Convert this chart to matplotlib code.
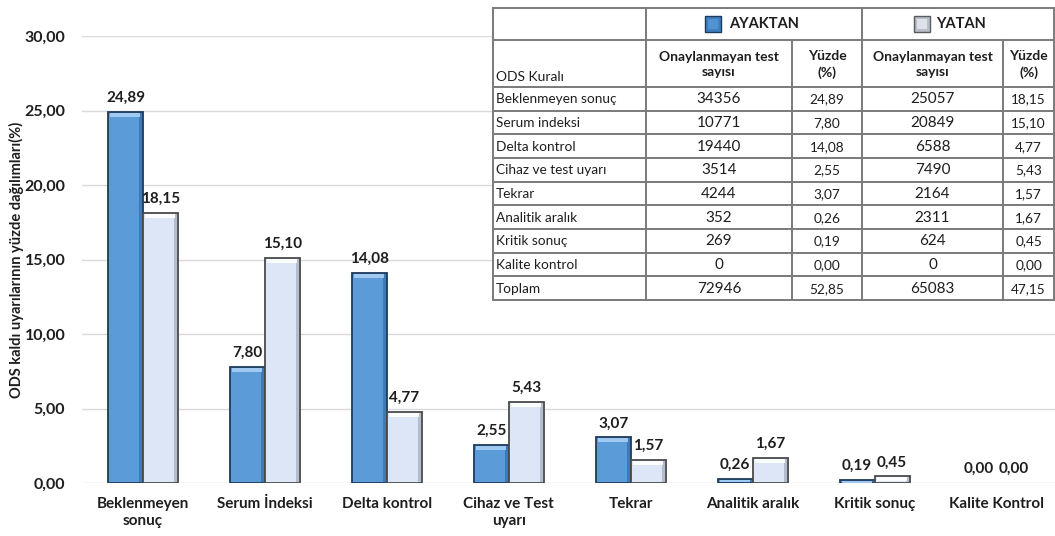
import matplotlib
matplotlib.use("Agg")
import matplotlib.pyplot as plt
from matplotlib.patches import Rectangle

plt.rcParams["font.family"] = ["Lato", "DejaVu Sans"]

# ---- data ---------------------------------------------------------------
categories = ["Beklenmeyen\nsonuç", "Serum İndeksi", "Delta kontrol",
              "Cihaz ve Test\nuyarı", "Tekrar", "Analitik aralık",
              "Kritik sonuç", "Kalite Kontrol"]
ayaktan_pct = [24.89, 7.80, 14.08, 2.55, 3.07, 0.26, 0.19, 0.00]
yatan_pct = [18.15, 15.10, 4.77, 5.43, 1.57, 1.67, 0.45, 0.00]

yticks = [0, 5, 10, 15, 20, 25, 30]

table_rules = ["Beklenmeyen sonuç", "Serum indeksi", "Delta kontrol",
               "Cihaz ve test uyarı", "Tekrar", "Analitik aralık",
               "Kritik sonuç", "Kalite kontrol", "Toplam"]
ayaktan_count = [34356, 10771, 19440, 3514, 4244, 352, 269, 0, 72946]
ayaktan_share = [24.89, 7.80, 14.08, 2.55, 3.07, 0.26, 0.19, 0.00, 52.85]
yatan_count = [25057, 20849, 6588, 7490, 2164, 2311, 624, 0, 65083]
yatan_share = [18.15, 15.10, 4.77, 5.43, 1.57, 1.67, 0.45, 0.00, 47.15]


def tr(v):
    return f"{v:.2f}".replace(".", ",")


# ---- styling ------------------------------------------------------------
BLUE = "#5b9bd8"
BLUE_EDGE = "#1d3a5c"
BLUE_TOP = "#a9d0f5"
BLUE_SIDE = "#2f659c"
LAV = "#dde6f6"
LAV_EDGE = "#4a4a4a"
LAV_TOP = "#ffffff"
LAV_SIDE = "#9aa3b2"
TXT = "#1e1e1e"

W, H = 1055, 536
fig = plt.figure(figsize=(W / 100, H / 100), dpi=100)
ax = fig.add_axes([82 / W, 1 - 483 / H, (1055 - 82) / W, (483 - 36) / H])

x = list(range(len(categories)))
bw = 0.287
b1 = ax.bar([i - bw / 2 for i in x], ayaktan_pct, bw, color=BLUE,
            edgecolor=BLUE_EDGE, linewidth=1.3, zorder=3)
b2 = ax.bar([i + bw / 2 for i in x], yatan_pct, bw, color=LAV,
            edgecolor=LAV_EDGE, linewidth=1.3, zorder=3)

ax.set_xlim(-0.5, len(categories) - 0.5 - 0.02)
ax.set_ylim(0, 30)

# bevel: light band on top, darker band on the right side
ypx = 30 / (483 - 36)
xpx = 1 / 122
for bars, top_c, side_c in ((b1, BLUE_TOP, BLUE_SIDE), (b2, LAV_TOP, LAV_SIDE)):
    for p in bars:
        h = p.get_height()
        if h <= 0:
            p.set_edgecolor("none")
            continue
        x0, w = p.get_x(), p.get_width()
        band = min(4 * ypx, h * 0.45)
        ax.add_patch(Rectangle((x0 + 2 * xpx, h - band - 1.2 * ypx), w - 5 * xpx, band,
                               facecolor=top_c, edgecolor="none", zorder=3.5, alpha=0.9))
        ax.add_patch(Rectangle((x0 + w - 4 * xpx, 1.2 * ypx), 3 * xpx,
                               max(h - 2.4 * ypx, 0), facecolor=side_c,
                               edgecolor="none", zorder=3.4, alpha=0.6))

for bars, vals in ((b1, ayaktan_pct), (b2, yatan_pct)):
    for p, v in zip(bars, vals):
        ax.annotate(tr(v), (p.get_x() + p.get_width() / 2, p.get_height()),
                    xytext=(0, 5), textcoords="offset points", ha="center",
                    va="bottom", fontsize=11, fontweight="bold", color=TXT, zorder=5)

ax.set_yticks(yticks)
ax.set_yticklabels([tr(t) for t in yticks], fontsize=11.5, fontweight="bold", color=TXT)
ax.set_xticks(x)
ax.set_xticklabels(categories, fontsize=11, fontweight="bold", color=TXT,
                   linespacing=1.25)
ax.tick_params(axis="both", length=0)
ax.tick_params(axis="y", pad=12)
ax.tick_params(axis="x", pad=10)
ax.grid(axis="y", color="#d9d9d9", linewidth=1.0, zorder=0)
for s in ax.spines.values():
    s.set_visible(False)
ax.set_ylabel("ODS kaldı uyarılarının yüzde dağılımları(%)", fontsize=10.5,
              fontweight="bold", color=TXT)
ax.yaxis.set_label_coords(-0.060, 0.5)

# ---- table overlay (pixel coordinates) ----------------------------------
tx = fig.add_axes([0, 0, 1, 1], zorder=10)
tx.set_xlim(0, W)
tx.set_ylim(H, 0)
tx.axis("off")
tx.patch.set_alpha(0)

cols = [493, 646, 792, 862, 1003, 1054]
rows = [8, 40, 87] + [87 + (300 - 87) * (k + 1) / len(table_rules) for k in range(len(table_rules))]
LINE = "#7a7a7a"
tx.add_patch(Rectangle((cols[0], rows[0]), cols[-1] - cols[0], rows[-1] - rows[0],
                       facecolor="white", edgecolor="none", zorder=1))
for yv in rows:
    tx.plot([cols[0], cols[-1]], [yv, yv], color=LINE, lw=1.4, zorder=2,
            solid_capstyle="butt")
for i, xv in enumerate(cols):
    if i in (2, 4):
        y0 = rows[1]
    else:
        y0 = rows[0]
    tx.plot([xv, xv], [y0, rows[-1]], color=LINE, lw=1.4, zorder=2)

# group headers with colour keys
def key(xk, yk, face, edge, top):
    tx.add_patch(Rectangle((xk, yk), 16, 16, facecolor=face, edgecolor=edge,
                           lw=1.0, zorder=3))
    tx.add_patch(Rectangle((xk + 3, yk + 3), 10, 10, facecolor=top,
                           edgecolor="none", zorder=3.5, alpha=0.7))

hy = (rows[0] + rows[1]) / 2
key(705, hy - 8, "#3f7fc0", "#1d3a5c", BLUE)
tx.text(729, hy + 0.5, "AYAKTAN", fontsize=10.5, fontweight="bold", color=TXT,
        va="center", ha="left", zorder=4)
key(914, hy - 8, "#b9bfca", "#5a5a5a", "#eef1f6")
tx.text(936, hy + 0.5, "YATAN", fontsize=10.5, fontweight="bold", color=TXT,
        va="center", ha="left", zorder=4)

sy = (rows[1] + rows[2]) / 2
tx.text(cols[0] + 3, rows[2] - 4, "ODS Kuralı", fontsize=10, color=TXT,
        va="bottom", ha="left", zorder=4)
for c0, c1, lab in ((cols[1], cols[2], "Onaylanmayan test\nsayısı"),
                    (cols[2], cols[3], "Yüzde\n(%)"),
                    (cols[3], cols[4], "Onaylanmayan test\nsayısı"),
                    (cols[4], cols[5], "Yüzde\n(%)")):
    tx.text((c0 + c1) / 2, sy + 1, lab, fontsize=10, fontweight="bold", color=TXT,
            va="center", ha="center", linespacing=1.35, zorder=4)

for k, name in enumerate(table_rules):
    cy = (rows[3 + k - 1] + rows[3 + k]) / 2 + 0.5
    tx.text(cols[0] + 3, cy, name, fontsize=9.8, color=TXT, va="center",
            ha="left", zorder=4)
    tx.text((cols[1] + cols[2]) / 2, cy, str(ayaktan_count[k]), fontsize=11,
            color=TXT, va="center", ha="center", zorder=4)
    tx.text((cols[2] + cols[3]) / 2, cy, tr(ayaktan_share[k]), fontsize=9.8,
            color=TXT, va="center", ha="center", zorder=4)
    tx.text((cols[3] + cols[4]) / 2, cy, str(yatan_count[k]), fontsize=11,
            color=TXT, va="center", ha="center", zorder=4)
    tx.text((cols[4] + cols[5]) / 2, cy, tr(yatan_share[k]), fontsize=9.8,
            color=TXT, va="center", ha="center", zorder=4)

fig.savefig("out.png", dpi=100, facecolor="white")
